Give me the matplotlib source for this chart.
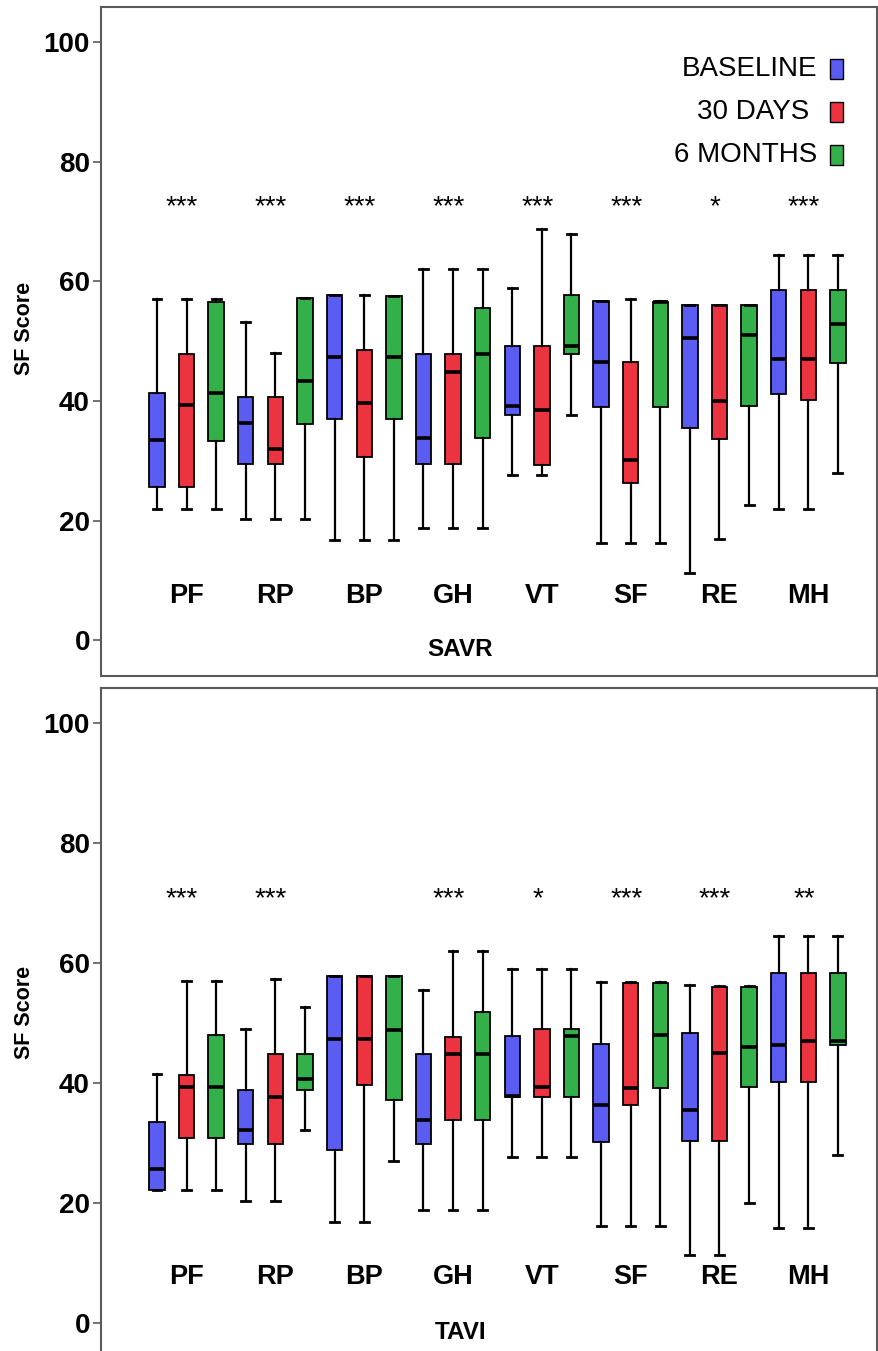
import matplotlib
matplotlib.use("Agg")
import matplotlib.pyplot as plt
from matplotlib.patches import Rectangle

plt.rcParams['font.family'] = ['Liberation Sans', 'DejaVu Sans']

domains = ['PF', 'RP', 'BP', 'GH', 'VT', 'SF', 'RE', 'MH']
times = ['BASELINE', '30 DAYS ', '6 MONTHS']
colors = ['#5a5cf2', '#ec3340', '#34b04a']

# SAVR: rows = baseline, 30 days, 6 months; columns = domains
savr_lo = [[22.0, 20.2, 16.7, 18.8, 27.6, 16.2, 11.3, 21.9],
           [22.0, 20.2, 16.7, 18.8, 27.6, 16.2, 16.9, 21.9],
           [22.0, 20.2, 16.7, 18.8, 37.6, 16.2, 22.6, 28.0]]
savr_q1 = [[25.6, 29.5, 37.0, 29.5, 37.6, 39.0, 35.5, 41.2],
           [25.6, 29.5, 30.7, 29.5, 29.3, 26.2, 33.6, 40.1],
           [33.3, 36.2, 37.0, 33.8, 47.8, 39.0, 39.2, 46.3]]
savr_med = [[33.4, 36.3, 47.3, 33.8, 39.2, 46.5, 50.6, 47.0],
            [39.3, 32.0, 39.7, 44.8, 38.5, 30.2, 40.0, 47.0],
            [41.4, 43.4, 47.3, 47.8, 49.2, 56.6, 51.1, 52.8]]
savr_q3 = [[41.4, 40.6, 57.7, 47.8, 49.2, 56.7, 56.1, 58.5],
           [47.9, 40.6, 48.6, 47.8, 49.2, 46.5, 56.1, 58.5],
           [56.6, 57.3, 57.6, 55.6, 57.8, 56.6, 56.1, 58.5]]
savr_hi = [[57.1, 53.2, 57.7, 62.0, 58.9, 56.7, 56.1, 64.5],
           [57.1, 48.0, 57.8, 62.0, 68.7, 57.0, 56.1, 64.5],
           [57.1, 57.3, 57.6, 62.0, 67.9, 56.8, 56.1, 64.5]]
savr_sig = ['***', '***', '***', '***', '***', '***', '*', '***']

# TAVI
tavi_lo = [[22.2, 20.4, 16.8, 18.9, 27.7, 16.2, 11.4, 15.9],
           [22.2, 20.4, 16.8, 18.9, 27.7, 16.2, 11.4, 15.9],
           [22.2, 32.2, 27.0, 18.9, 27.7, 16.2, 20.0, 28.1]]
tavi_q1 = [[22.2, 29.8, 28.8, 29.8, 37.7, 30.2, 30.3, 40.2],
           [30.8, 29.8, 39.7, 33.9, 37.7, 36.4, 30.3, 40.2],
           [30.8, 38.8, 37.2, 33.9, 37.7, 39.2, 39.4, 46.3]]
tavi_med = [[25.7, 32.2, 47.3, 33.9, 37.8, 36.4, 35.6, 46.3],
            [39.4, 37.7, 47.3, 44.9, 39.3, 39.2, 45.0, 47.0],
            [39.4, 40.7, 48.8, 44.9, 47.9, 48.0, 46.0, 47.0]]
tavi_q3 = [[33.6, 38.9, 57.8, 44.9, 47.9, 46.6, 48.3, 58.4],
           [41.4, 44.9, 57.8, 47.7, 49.1, 56.7, 56.1, 58.4],
           [48.0, 44.9, 57.8, 51.8, 49.1, 56.7, 56.1, 58.4]]
tavi_hi = [[41.5, 49.1, 57.8, 55.6, 59.0, 56.9, 56.4, 64.6],
           [57.1, 57.3, 57.8, 62.1, 59.0, 56.8, 56.2, 64.6],
           [57.1, 52.7, 57.8, 62.1, 59.0, 56.8, 56.2, 64.6]]
tavi_sig = ['***', '***', '', '***', '*', '***', '***', '**']

yticks = [0, 20, 40, 60, 80, 100]

fig = plt.figure(figsize=(8.79, 13.51), dpi=100)
ax_top = fig.add_axes([101/879, 1 - 676/1351, 776/879, 669/1351])
ax_bot = fig.add_axes([101/879, 1 - 1359/1351, 776/879, 671/1351])

spine_col = '#5a5a5a'


def draw_panel(ax, lo, q1, med, q3, hi, sig, xlabel, star_y, label_y,
               ylab_y, legend):
    ng = len(domains)
    for t in range(3):
        stats = []
        pos = []
        for g in range(ng):
            stats.append(dict(whislo=lo[t][g], q1=q1[t][g], med=med[t][g],
                              q3=q3[t][g], whishi=hi[t][g], fliers=[]))
            pos.append(3 * g + t)
        ax.bxp(stats, positions=pos, widths=0.52, patch_artist=True,
               showfliers=False, capwidths=0.3,
               boxprops=dict(facecolor=colors[t], edgecolor='black', linewidth=1.3),
               medianprops=dict(color='black', linewidth=2.6),
               whiskerprops=dict(color='black', linewidth=1.6),
               capprops=dict(color='black', linewidth=2.0))
    for g in range(ng):
        ax.text(3 * g + 1, label_y, domains[g], ha='center', va='center',
                fontsize=19.5, fontweight='bold')
        if sig[g]:
            ax.text(3 * g + 0.85, star_y, sig[g], ha='center', va='center',
                    fontsize=20)
    ax.set_xlim(-1.89, 24.32)
    ax.set_ylim(-6, 105.9)
    ax.set_xticks([])
    ax.set_yticks(yticks)
    ax.set_yticklabels([str(v) for v in yticks], fontsize=20, fontweight='bold')
    ax.tick_params(axis='y', length=6, width=1.2, color=spine_col, pad=2)
    for s in ax.spines.values():
        s.set_color(spine_col)
        s.set_linewidth(1.5)
    ax.set_ylabel('SF Score', fontsize=15.5, fontweight='bold')
    ax.yaxis.set_label_coords(-0.085, ylab_y)
    ax.text(0.463, 0.039, xlabel, transform=ax.transAxes, ha='center',
            va='center', fontsize=17.5, fontweight='bold')
    if legend:
        rows = [0.907, 0.843, 0.779]
        for t in range(3):
            ax.text(0.923, rows[t], times[t], transform=ax.transAxes,
                    ha='right', va='center', fontsize=20)
            ax.add_patch(Rectangle((0.940, rows[t] - 0.015), 0.0165, 0.030,
                                   transform=ax.transAxes, facecolor=colors[t],
                                   edgecolor='black', linewidth=1.0))


draw_panel(ax_top, savr_lo, savr_q1, savr_med, savr_q3, savr_hi, savr_sig,
           'SAVR', 72.4, 7.3, 0.52, True)
draw_panel(ax_bot, tavi_lo, tavi_q1, tavi_med, tavi_q3, tavi_hi, tavi_sig,
           'TAVI', 70.6, 7.6, 0.517, False)

fig.savefig('out.png', dpi=100)
